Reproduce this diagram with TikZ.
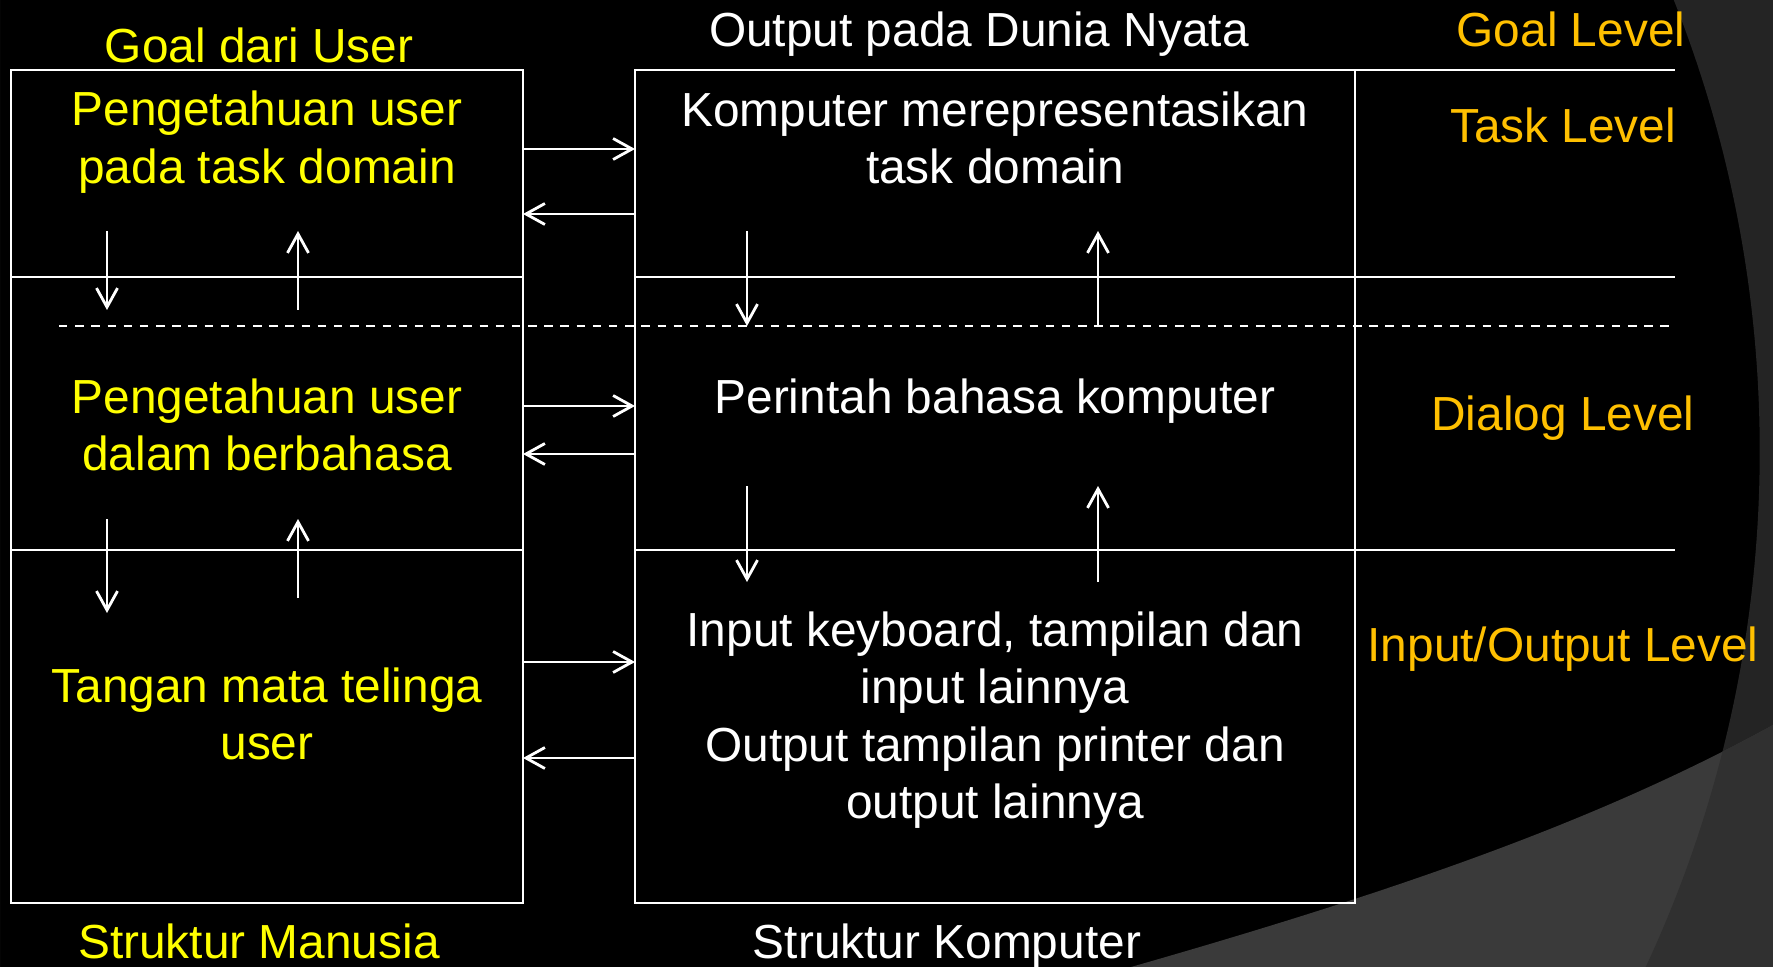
\documentclass[tikz,border=0pt]{standalone}
\usepackage{fontspec}
\setmainfont{Liberation Sans}
\usetikzlibrary{arrows.meta}

\definecolor{darkband}{HTML}{242424}
\definecolor{wedgegray}{HTML}{3A3A3A}
\definecolor{wedgeband}{HTML}{303030}
\definecolor{useryellow}{HTML}{FFFF00}
\definecolor{levelorange}{HTML}{FFC000}

\tikzset{
	frame/.style={draw=white, line width=0.8pt},
	flow/.style={draw=white, line width=0.8pt, -{Straight Barb[length=1.9mm,width=2.1mm]}},
	levelline/.style={draw=white, line width=0.8pt, dash pattern=on 2.4pt off 2.2pt}
}

\begin{document}
\begin{tikzpicture}[x=0.01cm, y=-0.01cm, font=\fontsize{13.6}{16.3}\selectfont]
					\useasboundingbox (0,0) rectangle (1773,967);
					\fill[black] (0,0) rectangle (1773,967);
					\fill[darkband, even odd rule] (0,0) rectangle (1773,967) (538,451) circle[radius=12.21cm];
					\fill[wedgegray] (1131,967) .. controls (1400,890) and (1600,820) .. (1773,725) -- (1773,967) -- cycle;
					\begin{scope}
						\clip (1131,967) .. controls (1400,890) and (1600,820) .. (1773,725) -- (1773,967) -- cycle;
						\fill[wedgeband, even odd rule] (0,0) rectangle (1773,967) (538,451) circle[radius=12.21cm];
					\end{scope}
					
					\begin{scope}
						\coordinate (hTL) at (11,70);
						\coordinate (hBR) at (523,903);
						\coordinate (kTL) at (635,70);
						\coordinate (kTR) at (1355,70);
						\coordinate (kBR) at (1355,903);
						\coordinate (lvR0) at (1675,70);
						\coordinate (hL1) at (11,277);
						\coordinate (hR1) at (523,277);
						\coordinate (kL1) at (635,277);
						\coordinate (lvR1) at (1675,277);
						\coordinate (hL2) at (11,550);
						\coordinate (hR2) at (523,550);
						\coordinate (kL2) at (635,550);
						\coordinate (lvR2) at (1675,550);
						\coordinate (dL) at (59,326);
						\coordinate (dR) at (1675,326);
					\end{scope}
					
					\begin{scope}
						\draw[frame] (hTL) rectangle (hBR);
						\draw[frame] (kTL) rectangle (kBR);
						\draw[frame] (kTR) -- (lvR0);
						\draw[frame] (hL1) -- (hR1);
						\draw[frame] (kL1) -- (lvR1);
						\draw[frame] (hL2) -- (hR2);
						\draw[frame] (kL2) -- (lvR2);
						\draw[levelline] (dL) -- (dR);
					\end{scope}
					
					\begin{scope}[every node/.style={text=useryellow, align=center, inner sep=0pt}]
						\node (goaluser) at (259,45) {Goal dari User};
						\node (htask) at (267,142) {Pengetahuan user\\pada task domain};
						\node (hdialog) at (267,425) {Pengetahuan user\\dalam berbahasa};
						\node (hio) at (267,714) {Tangan mata telinga\\user};
						\node (strman) at (259,941) {Struktur Manusia};
					\end{scope}
					
					\begin{scope}[every node/.style={text=white, align=center, inner sep=0pt}]
						\node (realout) at (979,34) {Output pada Dunia Nyata};
						\node (ktask) at (995,138) {Komputer merepresentasikan\\task domain};
						\node (kdialog) at (995,401) {Perintah bahasa komputer};
						\node (kio) at (995,720) {Input keyboard, tampilan dan\\input lainnya\\Output tampilan printer dan\\output lainnya};
						\node (strkomp) at (947,946) {Struktur Komputer};
					\end{scope}
					
					\begin{scope}[every node/.style={text=levelorange, align=center, inner sep=0pt}]
						\node (goallvl) at (1571,29) {Goal Level};
						\node (tasklvl) at (1563,125) {Task Level};
						\node (dialoglvl) at (1563,418) {Dialog Level};
						\node (iolvl) at (1563,649) {Input/Output Level};
					\end{scope}
					
					\begin{scope}
						\coordinate (hE1) at (523,149);
						\coordinate (kW1) at (635,149);
						\coordinate (hE2) at (523,214);
						\coordinate (kW2) at (635,214);
						\coordinate (hE3) at (523,406);
						\coordinate (kW3) at (635,406);
						\coordinate (hE4) at (523,454);
						\coordinate (kW4) at (635,454);
						\coordinate (hE5) at (523,662);
						\coordinate (kW5) at (635,662);
						\coordinate (hE6) at (523,758);
						\coordinate (kW6) at (635,758);
						\coordinate (hd1a) at (107,231);
						\coordinate (hd1b) at (107,310);
						\coordinate (hu1a) at (298,310);
						\coordinate (hu1b) at (298,231);
						\coordinate (hd2a) at (107,519);
						\coordinate (hd2b) at (107,613);
						\coordinate (hu2a) at (298,598);
						\coordinate (hu2b) at (298,519);
						\coordinate (kd1a) at (747,231);
						\coordinate (kd1b) at (747,326);
						\coordinate (ku1a) at (1098,326);
						\coordinate (ku1b) at (1098,231);
						\coordinate (kd2a) at (747,486);
						\coordinate (kd2b) at (747,582);
						\coordinate (ku2a) at (1098,582);
						\coordinate (ku2b) at (1098,486);
					\end{scope}
					
					\begin{scope}
						\path (hE1) edge[flow] (kW1);
						\path (kW2) edge[flow] (hE2);
						\path (hE3) edge[flow] (kW3);
						\path (kW4) edge[flow] (hE4);
						\path (hE5) edge[flow] (kW5);
						\path (kW6) edge[flow] (hE6);
						\path (hd1a) edge[flow] (hd1b);
						\path (hu1a) edge[flow] (hu1b);
						\path (hd2a) edge[flow] (hd2b);
						\path (hu2a) edge[flow] (hu2b);
						\path (kd1a) edge[flow] (kd1b);
						\path (ku1a) edge[flow] (ku1b);
						\path (kd2a) edge[flow] (kd2b);
						\path (ku2a) edge[flow] (ku2b);
					\end{scope}
				\end{tikzpicture}
\end{document}
